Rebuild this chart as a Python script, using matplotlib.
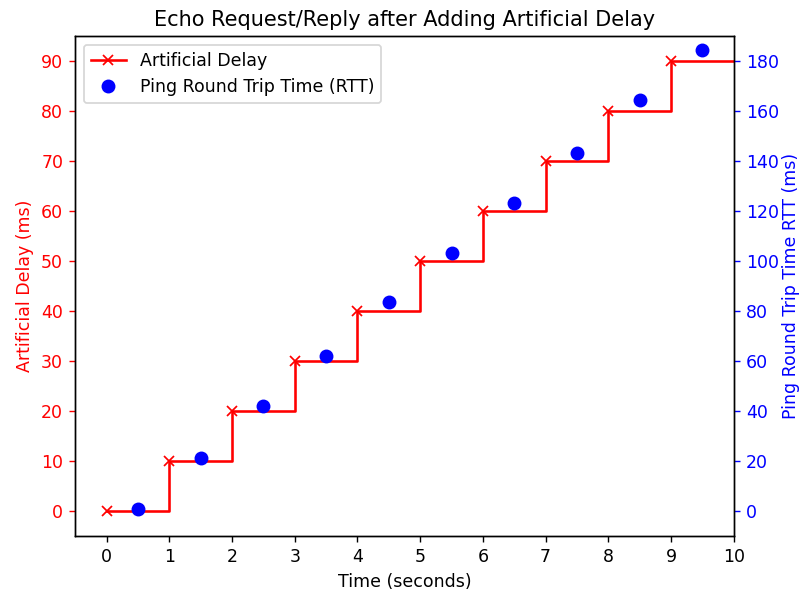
import numpy as np
import matplotlib as mpl
mpl.use('Agg')
import matplotlib.pyplot as plt

# artificial delay steps (last point repeats to carry the step out to t=10)
delay_t  = [0, 1, 2, 3, 4, 5, 6, 7, 8, 9, 10]
delay_ms = [0, 10, 20, 30, 40, 50, 60, 70, 80, 90, 90]

# measured ping RTT, half a second after each step
rtt_t  = [0.5, 1.5, 2.5, 3.5, 4.5, 5.5, 6.5, 7.5, 8.5, 9.5]
rtt_ms = [0.6, 21, 42, 62, 83.5, 103, 123, 143, 164.5, 184.5]

xticks      = [0, 1, 2, 3, 4, 5, 6, 7, 8, 9, 10]
delay_ticks = [0, 10, 20, 30, 40, 50, 60, 70, 80, 90]
rtt_ticks   = [0, 20, 40, 60, 80, 100, 120, 140, 160, 180]

fig, ax1 = plt.subplots(figsize=(801/125.0, 595/125.0), dpi=125)
fig.subplots_adjust(left=0.094, right=0.916, top=0.9395, bottom=0.0992)

l1, = ax1.plot(delay_t, delay_ms, color='red', drawstyle='steps-post',
               marker='x', markevery=list(range(10)), label='Artificial Delay')
ax1.set_xlim(-0.5, 10)
ax1.set_ylim(-5, 95)
ax1.set_xticks(xticks)
ax1.set_yticks(delay_ticks)
ax1.set_xlabel('Time (seconds)')
ax1.set_ylabel('Artificial Delay (ms)', color='red')
ax1.tick_params(axis='y', colors='red')

ax2 = ax1.twinx()
l2, = ax2.plot(rtt_t, rtt_ms, 'o', color='blue', markersize=7,
               label='Ping Round Trip Time (RTT)')
ax2.set_ylim(-10, 190)
ax2.set_yticks(rtt_ticks)
ax2.set_ylabel('Ping Round Trip Time RTT (ms)', color='blue', labelpad=2)
ax2.tick_params(axis='y', colors='blue')
ax2.spines['right'].set_color('black')
ax2.spines['left'].set_color('black')

ax1.legend(handles=[l1, l2], loc='upper left')
ax1.set_title('Echo Request/Reply after Adding Artificial Delay')

plt.savefig('out.png', dpi=125)
